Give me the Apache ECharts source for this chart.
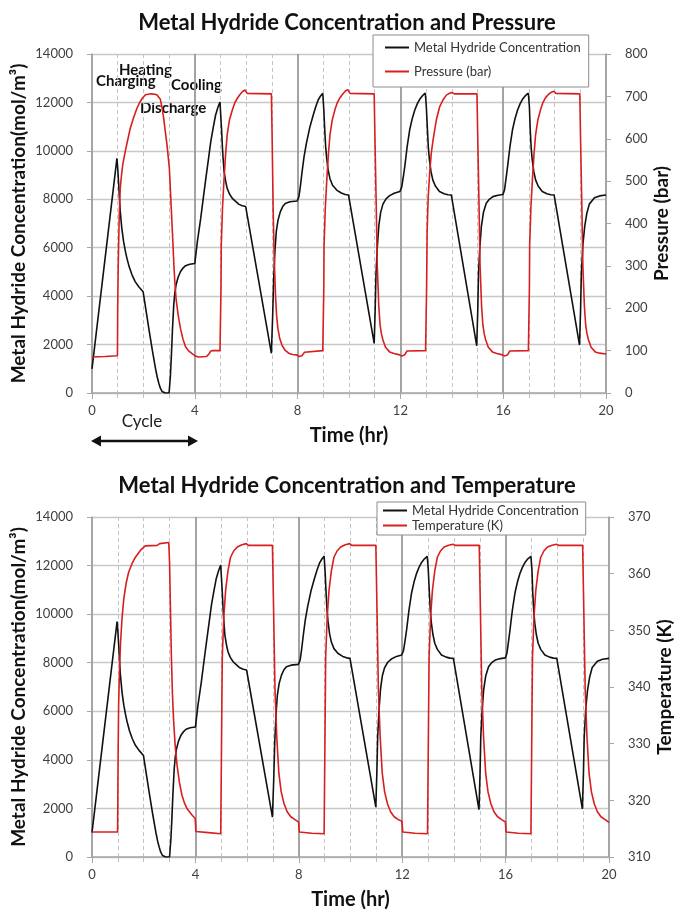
<!DOCTYPE html>
<html><head><meta charset="utf-8">
<script src="https://cdn.jsdelivr.net/npm/echarts@6/dist/echarts.min.js"></script>
<style>html,body{margin:0;padding:0;background:#fff}#c{width:674px;height:915px}</style>
</head><body><div id="c"></div>
<script>
// ---- Data ----
const concTime = [
  0,0.97,1.00,1.04,1.07,1.10,1.16,1.23,1.30,1.36,1.45,1.56,1.68,1.82,1.99,2.21,2.35,2.47,2.54,2.60,2.66,2.73,2.80,2.85,3.00,3.05,3.09,3.13,3.18,3.22,3.27,3.35,3.44,3.54,3.64,3.80,
  4.00,4.10,4.23,4.33,4.43,4.53,4.62,4.72,4.81,4.90,4.98,5.04,5.07,5.10,5.14,5.20,5.26,5.35,5.46,5.60,5.72,5.85,5.98,6.98,7.03,7.07,7.12,7.17,7.24,7.33,7.42,7.52,7.70,
  7.98,8.05,8.11,8.17,8.25,8.34,8.47,8.60,8.70,8.80,8.90,8.98,9.02,9.05,9.09,9.13,9.19,9.26,9.36,9.52,9.70,9.85,9.98,10.98,11.02,11.05,11.10,11.16,11.23,11.32,11.44,11.58,11.78,
  11.98,12.05,12.11,12.17,12.26,12.36,12.46,12.56,12.66,12.75,12.86,12.97,13.01,13.05,13.09,13.13,13.19,13.26,13.36,13.52,13.70,13.85,13.98,14.97,15.01,15.04,15.09,15.15,15.23,15.34,15.46,15.60,15.80,
  15.99,16.05,16.11,16.17,16.26,16.36,16.46,16.56,16.66,16.75,16.86,16.98,17.02,17.05,17.09,17.13,17.19,17.26,17.36,17.52,17.70,17.85,17.98,18.97,19.01,19.04,19.10,19.17,19.25,19.35,19.55,19.75,20.00];
const concValues = [
  1000,9690,9300,8590,8000,7490,6800,6250,5850,5560,5200,4870,4600,4390,4180,2670,1750,1020,650,400,200,60,10,0,0,700,1570,2600,3630,4100,4460,4780,5010,5160,5260,5320,
  5350,6250,7210,8050,8860,9650,10370,10980,11480,11800,12020,10900,10240,9700,9140,8750,8450,8220,8040,7900,7790,7730,7700,1640,3200,4740,5900,6660,7150,7490,7700,7830,7900,
  7930,8100,8550,9100,9750,10300,10950,11450,11800,12100,12280,12380,11700,11000,10200,9700,9200,8850,8580,8380,8260,8200,8180,2050,3500,4900,6000,6900,7450,7800,8020,8150,8260,
  8320,8500,8900,9350,10150,10860,11330,11690,11950,12130,12280,12380,11800,10900,10100,9625,9150,8800,8550,8320,8230,8190,8180,1950,3400,4940,6000,6870,7450,7835,8000,8110,8170,
  8200,8380,8850,9350,10150,10860,11330,11690,11950,12130,12280,12380,11800,10900,10100,9625,9150,8800,8550,8320,8230,8190,8180,1980,3400,4900,6100,6870,7400,7800,8060,8140,8180];

const pressTime = [
  0,0.5,0.99,1.00,1.02,1.06,1.10,1.15,1.20,1.30,1.40,1.49,1.62,1.75,1.85,1.95,2.08,2.30,2.45,2.53,2.60,2.66,2.72,2.79,2.85,2.92,3.01,3.05,3.09,3.14,3.18,3.22,3.27,3.35,3.44,3.54,3.64,3.75,3.87,4.03,4.15,4.45,4.55,4.62,4.70,4.98,
  5.00,5.02,5.03,5.08,5.14,5.20,5.26,5.35,5.46,5.55,5.65,5.75,5.85,5.95,6.04,6.98,7.01,7.05,7.09,7.14,7.18,7.23,7.30,7.39,7.50,7.65,7.80,7.97,8.05,8.17,8.27,8.33,8.98,
  9.00,9.02,9.03,9.08,9.14,9.20,9.26,9.35,9.46,9.55,9.65,9.75,9.85,9.95,10.04,10.98,11.01,11.06,11.10,11.16,11.21,11.26,11.32,11.42,11.58,11.75,11.97,12.05,12.17,12.25,12.32,12.98,
  13.00,13.02,13.04,13.08,13.14,13.20,13.27,13.40,13.53,13.66,13.79,13.90,13.98,14.10,14.98,15.01,15.06,15.10,15.16,15.21,15.26,15.32,15.42,15.58,15.75,15.97,16.05,16.17,16.25,16.32,16.98,
  17.00,17.02,17.03,17.08,17.14,17.20,17.26,17.35,17.46,17.55,17.65,17.75,17.85,17.97,18.05,18.98,19.01,19.06,19.10,19.16,19.21,19.26,19.32,19.42,19.58,19.75,20.00];
const pressValues = [
  85,86,88,200,300,420,484,515,540,572,600,625,650,672,685,695,704,706,705,703,699,693,675,648,618,585,530,480,428,365,310,265,223,185,153,127,109,100,94,87,85,86,92,99,100,100,
  100,250,349,440,507,565,609,645,668,684,695,704,711,715,707,706,600,428,320,231,185,153,130,113,102,94,91,90,86,88,96,100,100,
  100,250,349,440,507,565,609,645,670,686,697,705,712,716,707,706,600,440,300,204,160,140,125,108,97,93,90,87,90,99,100,100,
  100,250,380,460,520,565,597,645,676,692,703,707,709,706,706,600,440,300,204,160,140,125,108,97,93,90,87,90,99,100,100,
  100,250,349,440,507,565,609,645,670,686,697,704,709,712,707,706,600,440,300,204,160,140,125,108,97,94,92];

const tempTime = [
  0,0.99,1.01,1.03,1.06,1.10,1.16,1.23,1.32,1.42,1.55,1.68,1.87,2.06,2.52,2.62,2.97,3.00,3.03,3.07,3.11,3.16,3.22,3.29,3.38,3.48,3.58,3.68,3.87,3.99,4.02,4.50,4.98,
  5.02,5.04,5.10,5.17,5.26,5.36,5.48,5.62,5.80,5.97,6.05,6.98,7.02,7.05,7.08,7.15,7.23,7.32,7.43,7.55,7.69,7.85,7.99,8.02,8.50,8.98,
  9.02,9.04,9.10,9.17,9.26,9.36,9.48,9.62,9.80,9.97,10.05,10.98,11.02,11.05,11.08,11.15,11.23,11.32,11.43,11.55,11.69,11.85,11.99,12.02,12.50,12.98,
  13.02,13.04,13.10,13.17,13.26,13.36,13.48,13.62,13.80,13.97,14.05,14.98,15.02,15.05,15.08,15.15,15.23,15.32,15.43,15.55,15.69,15.85,15.99,16.02,16.50,16.98,
  17.02,17.04,17.10,17.17,17.26,17.36,17.48,17.62,17.80,17.97,18.05,18.98,19.02,19.05,19.08,19.15,19.23,19.32,19.43,19.55,19.69,19.85,20.00];
const tempValues = [
  314.4,314.4,328,336.8,342.5,347.4,352,355.6,358.3,360.3,361.8,362.9,364.1,364.9,365.0,365.3,365.5,362,355,345.6,339,333.8,329.5,326.2,323.2,320.9,319.5,318.5,317.4,316.8,314.5,314.3,314.1,
  335,345.3,352.5,357.1,360.5,362.9,364.0,364.7,365.1,365.3,365.0,365.0,355,347,339.4,331,324.7,321.5,319.4,318.0,317.1,316.6,316.2,314.4,314.2,314.1,
  335,345.3,352.5,357.1,360.5,362.9,364.0,364.7,365.1,365.3,365.0,365.0,355,347,339.4,331,324.7,321.5,319.4,318.0,317.1,316.6,316.3,314.4,314.2,314.1,
  335,345.3,352.5,357.1,360.5,362.9,364.0,364.7,365.0,365.2,365.0,365.0,355,347,339.4,331,324.7,321.5,319.4,318.0,317.1,316.6,316.2,314.4,314.2,314.1,
  335,345.3,352.5,357.1,360.5,362.9,364.0,364.7,365.0,365.2,365.0,365.0,355,347,339.4,331,324.7,321.5,319.4,318.0,317.1,316.6,316.1];

const concAxis = {min: 0, max: 14000, interval: 2000};
const pressAxis = {min: 0, max: 800, interval: 100};
const tempAxis = {min: 310, max: 370, interval: 10};
const timeAxis = {min: 0, max: 20, interval: 4};

const titles = ['Metal Hydride Concentration and Pressure', 'Metal Hydride Concentration and Temperature'];
const concName = 'Metal Hydride Concentration';
const pressName = 'Pressure (bar)';
const tempName = 'Temperature (K)';
const leftAxisName = 'Metal Hydride Concentration(mol/m³)';
const timeName = 'Time (hr)';
const phaseLabels = ['Charging', 'Heating', 'Cooling', 'Discharge'];
const cycleLabel = 'Cycle';

// ---- Build chart ----
const pairs = (xs, ys) => xs.map((x, i) => [x, ys[i]]);
const FONT = 'Lato, "Open Sans", sans-serif';
const axisGray = '#a6a6a6';
const labelColor = '#404040';
const plain = v => String(v);

function xAxisFor(gridIndex) {
  return {
    gridIndex, type: 'value', min: timeAxis.min, max: timeAxis.max, interval: timeAxis.interval,
    name: timeName, nameLocation: 'middle', nameGap: 33, nameMoveOverlap: false,
    nameTextStyle: {fontFamily: FONT, fontWeight: 'bold', fontSize: 20, color: '#111'},
    axisLine: {show: true, onZero: false, lineStyle: {color: axisGray, width: 1.5}},
    axisTick: {show: true, length: 6, lineStyle: {color: axisGray}},
    minorTick: {show: true, splitNumber: 4, length: 5, lineStyle: {color: '#c0c0c0'}},
    axisLabel: {fontFamily: FONT, fontSize: 13, color: labelColor, margin: 11, formatter: plain},
    splitLine: {show: true, lineStyle: {color: '#9a9a9a', width: 1.8}},
    minorSplitLine: {show: true, lineStyle: {color: '#c4c4c4', width: 1, type: [4, 3]}}
  };
}
function leftAxisFor(gridIndex) {
  return {
    gridIndex, type: 'value', position: 'left', min: concAxis.min, max: concAxis.max, interval: concAxis.interval,
    name: leftAxisName, nameLocation: 'middle', nameGap: 64, nameRotate: 90, nameMoveOverlap: false,
    nameTextStyle: {fontFamily: FONT, fontWeight: 'bold', fontSize: 19, color: '#111'},
    axisLine: {show: true, lineStyle: {color: axisGray, width: 1.5}},
    axisTick: {show: true, length: 5, lineStyle: {color: axisGray}},
    axisLabel: {fontFamily: FONT, fontSize: 13, color: labelColor, margin: 19, formatter: plain},
    splitLine: {show: true, lineStyle: {color: '#c8c8c8', width: 1.3}}
  };
}
function rightAxisFor(gridIndex, ax, name) {
  return {
    gridIndex, type: 'value', position: 'right', min: ax.min, max: ax.max, interval: ax.interval,
    name, nameLocation: 'middle', nameGap: 46, nameRotate: 90, nameMoveOverlap: false,
    nameTextStyle: {fontFamily: FONT, fontWeight: 'bold', fontSize: 19, color: '#111'},
    axisLine: {show: true, lineStyle: {color: axisGray, width: 1.5}},
    axisTick: {show: true, length: 5, lineStyle: {color: axisGray}},
    axisLabel: {fontFamily: FONT, fontSize: 13, color: labelColor, margin: 19, formatter: plain},
    splitLine: {show: false}
  };
}

const legendBase = {
  orient: 'vertical', icon: 'rect', itemWidth: 24, itemHeight: 2,
  backgroundColor: '#fff', borderColor: '#8c8c8c', borderWidth: 1,
  textStyle: {fontFamily: FONT, fontSize: 13, color: '#333'}
};
const lineCommon = {type: 'line', showSymbol: false, symbol: 'none'};

const chart = echarts.init(document.getElementById('c'), null, {renderer: 'canvas'});
chart.setOption({
  animation: false,
  backgroundColor: '#fff',
  title: [
    {text: titles[0], left: 342, top: 7, textAlign: 'center', textStyle: {fontFamily: FONT, fontWeight: 'bold', fontSize: 22, color: '#111'}},
    {text: titles[1], left: 342, top: 470, textAlign: 'center', textStyle: {fontFamily: FONT, fontWeight: 'bold', fontSize: 22, color: '#111'}}
  ],
  legend: [
    Object.assign({}, legendBase, {data: [concName, pressName], left: 373, top: 35, itemGap: 11, padding: [6, 8, 9, 12]}),
    Object.assign({}, legendBase, {data: [concName, tempName], left: 377, top: 502, itemGap: 2, padding: [2, 7, 3, 6]})
  ],
  grid: [
    {left: 92, right: 68, top: 54, height: 339, containLabel: false, outerBoundsMode: 'none'},
    {left: 92, right: 65, top: 517, height: 340, containLabel: false, outerBoundsMode: 'none'}
  ],
  xAxis: [xAxisFor(0), xAxisFor(1)],
  yAxis: [leftAxisFor(0), rightAxisFor(0, pressAxis, pressName), leftAxisFor(1), rightAxisFor(1, tempAxis, tempName)],
  series: [
    Object.assign({}, lineCommon, {name: concName, xAxisIndex: 0, yAxisIndex: 0, data: pairs(concTime, concValues), lineStyle: {color: '#111', width: 1.6}, itemStyle: {color: '#111'}}),
    Object.assign({}, lineCommon, {name: pressName, xAxisIndex: 0, yAxisIndex: 1, data: pairs(pressTime, pressValues), lineStyle: {color: '#d81e1e', width: 1.6}, itemStyle: {color: '#d81e1e'}}),
    Object.assign({}, lineCommon, {name: concName, xAxisIndex: 1, yAxisIndex: 2, data: pairs(concTime, concValues), lineStyle: {color: '#111', width: 1.6}, itemStyle: {color: '#111'}}),
    Object.assign({}, lineCommon, {name: tempName, xAxisIndex: 1, yAxisIndex: 3, data: pairs(tempTime, tempValues), lineStyle: {color: '#d81e1e', width: 1.6}, itemStyle: {color: '#d81e1e'}})
  ],
  graphic: [
    {type: 'text', left: 96, top: 74, style: {text: phaseLabels[0], font: 'bold 15px ' + FONT, fill: '#111'}},
    {type: 'text', left: 119, top: 63, style: {text: phaseLabels[1], font: 'bold 15px ' + FONT, fill: '#111'}},
    {type: 'text', left: 171, top: 78, style: {text: phaseLabels[2], font: 'bold 15px ' + FONT, fill: '#111'}},
    {type: 'text', left: 140, top: 101, style: {text: phaseLabels[3], font: 'bold 15px ' + FONT, fill: '#111'}},
    {type: 'text', x: 142, y: 422, style: {text: cycleLabel, font: '17px ' + FONT, fill: '#222', align: 'center', verticalAlign: 'middle'}},
    {type: 'line', shape: {x1: 99, y1: 441, x2: 189, y2: 441}, style: {stroke: '#111', lineWidth: 2.5}},
    {type: 'polygon', shape: {points: [[91, 441], [101, 435.5], [101, 446.5]]}, style: {fill: '#111'}},
    {type: 'polygon', shape: {points: [[198, 441], [188, 435.5], [188, 446.5]]}, style: {fill: '#111'}}
  ]
});
</script>
</body></html>
